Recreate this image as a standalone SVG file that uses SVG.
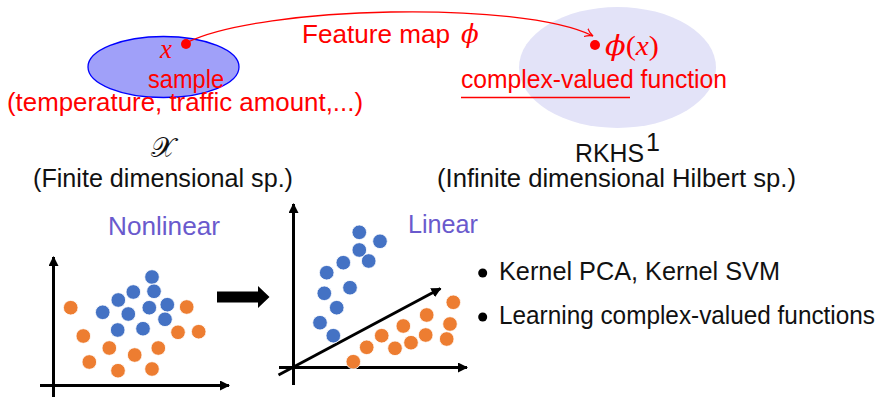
<svg xmlns="http://www.w3.org/2000/svg" width="883" height="397" viewBox="0 0 883 397">
  <style>
    .sans { font-family: "Liberation Sans", "DejaVu Sans", sans-serif; font-size: 25px; }
    .math { font-family: "Liberation Serif", "DejaVu Serif", serif; font-style: italic; font-size: 27px; }
    .phi { font-family: "DejaVu Serif", serif; font-style: italic; }
    .red { fill: #ff0000; }
    .ink { fill: #111111; }
    .slate { fill: #6a5acd; }
    .axis { stroke: #000000; stroke-width: 3; fill: none; }
    .blue-dot { fill: #4472c4; stroke: #ffffff; stroke-width: 0.8; }
    .orange-dot { fill: #ed7d31; stroke: #ffffff; stroke-width: 0.8; }
  </style>
  <defs>
    <marker id="axisHead" markerUnits="userSpaceOnUse" markerWidth="12" markerHeight="12" refX="9" refY="5" orient="auto">
      <path d="M0,0 L10,5 L0,10 Z" fill="#000000"/>
    </marker>
    <marker id="mapHead" markerUnits="userSpaceOnUse" markerWidth="12" markerHeight="12" refX="8" refY="5" orient="auto">
      <path d="M0,0.5 Q4,4 8,5 Q4,6 0,9.5" fill="none" stroke="#ff0000" stroke-width="1.2"/>
    </marker>
  </defs>

  <!-- input space -->
  <g id="input-space">
    <ellipse cx="163.5" cy="67" rx="75.5" ry="30.5" fill="#a0a0f9" stroke="#0000ff" stroke-width="1.3"/>
    <text class="math red" x="160" y="58">x</text>
    <circle cx="186" cy="44" r="5" fill="#ff0000"/>
    <text class="sans red" x="148" y="88" textLength="76" lengthAdjust="spacingAndGlyphs">sample</text>
    <text class="sans red" x="7" y="111" textLength="356" lengthAdjust="spacingAndGlyphs">(temperature, traffic amount,...)</text>
    <text class="ink" x="163" y="157" text-anchor="middle" font-family="DejaVu Serif, serif" font-size="28">𝒳</text>
    <text class="sans ink" x="33" y="187" textLength="260" lengthAdjust="spacingAndGlyphs">(Finite dimensional sp.)</text>
  </g>

  <!-- feature space -->
  <g id="feature-space">
    <ellipse cx="617.5" cy="67.5" rx="98.5" ry="60.5" fill="#e3e3f8"/>
    <circle cx="595" cy="45" r="5" fill="#ff0000"/>
    <text class="red" x="605" y="55" font-size="28" textLength="54" lengthAdjust="spacingAndGlyphs"><tspan class="phi">ϕ</tspan><tspan font-family="Liberation Serif, serif">(</tspan><tspan class="math" font-size="28">x</tspan><tspan font-family="Liberation Serif, serif">)</tspan></text>
    <text class="sans red" x="461" y="88" textLength="266" lengthAdjust="spacingAndGlyphs">complex-valued function</text>
    <line x1="461" y1="97.5" x2="630" y2="97.5" stroke="#ff0000" stroke-width="1.5"/>
    <text class="sans ink" x="575" y="162" font-size="26" textLength="69" lengthAdjust="spacingAndGlyphs">RKHS</text>
    <text class="sans ink" x="646" y="151" font-size="14">1</text>
    <text class="sans ink" x="437" y="187" textLength="359" lengthAdjust="spacingAndGlyphs">(Infinite dimensional Hilbert sp.)</text>
  </g>

  <!-- feature map connector -->
  <g id="connectors">
    <path d="M188,42 C262,6 520,0 593,36" fill="none" stroke="#ff0000" stroke-width="1.3" marker-end="url(#mapHead)"/>
    <text class="sans red" x="302" y="42.5" font-size="26" textLength="148" lengthAdjust="spacingAndGlyphs">Feature map</text>
    <text class="phi red" x="461" y="42.5" font-size="26">ϕ</text>
  </g>

  <!-- nonlinear data -->
  <g id="nonlinear-plot">
    <text class="sans slate" x="108" y="235" textLength="112" lengthAdjust="spacingAndGlyphs">Nonlinear</text>
    <line class="axis" x1="53.5" y1="397" x2="53.5" y2="257" marker-end="url(#axisHead)"/>
    <line class="axis" x1="40" y1="385.5" x2="229" y2="385.5" marker-end="url(#axisHead)"/>
    <circle class="orange-dot" cx="70.7" cy="307.7" r="7.3"/>
    <circle class="orange-dot" cx="83.3" cy="336" r="7.3"/>
    <circle class="orange-dot" cx="109.3" cy="348" r="7.3"/>
    <circle class="orange-dot" cx="89.3" cy="362" r="7.3"/>
    <circle class="orange-dot" cx="118" cy="370.7" r="7.3"/>
    <circle class="orange-dot" cx="134.7" cy="355" r="7.3"/>
    <circle class="orange-dot" cx="152" cy="369" r="7.3"/>
    <circle class="orange-dot" cx="158.3" cy="348" r="7.3"/>
    <circle class="orange-dot" cx="178" cy="332.3" r="7.3"/>
    <circle class="orange-dot" cx="198.7" cy="331.7" r="7.3"/>
    <circle class="orange-dot" cx="186.7" cy="307" r="7.3"/>
    <circle class="blue-dot" cx="152" cy="277" r="7.3"/>
    <circle class="blue-dot" cx="133.3" cy="292" r="7.3"/>
    <circle class="blue-dot" cx="154" cy="291.3" r="7.3"/>
    <circle class="blue-dot" cx="118.3" cy="300" r="7.3"/>
    <circle class="blue-dot" cx="102.7" cy="312.3" r="7.3"/>
    <circle class="blue-dot" cx="128.3" cy="314" r="7.3"/>
    <circle class="blue-dot" cx="149.3" cy="307.7" r="7.3"/>
    <circle class="blue-dot" cx="167.3" cy="304.7" r="7.3"/>
    <circle class="blue-dot" cx="165" cy="319.3" r="7.3"/>
    <circle class="blue-dot" cx="117.7" cy="330" r="7.3"/>
    <circle class="blue-dot" cx="143" cy="328.7" r="7.3"/>
  </g>

  <!-- transform arrow -->
  <g id="transform-arrow">
    <polygon points="217,291.5 258,291.5 258,286 269.5,297 258,308 258,302.5 217,302.5" fill="#000000"/>
  </g>

  <!-- linear data -->
  <g id="linear-plot">
    <text class="sans slate" x="408" y="233" textLength="70" lengthAdjust="spacingAndGlyphs">Linear</text>
    <line class="axis" x1="293.5" y1="385" x2="293.5" y2="204" marker-end="url(#axisHead)"/>
    <line class="axis" x1="279" y1="367.5" x2="467" y2="367.5" marker-end="url(#axisHead)"/>
    <line class="axis" x1="278.5" y1="375" x2="440.5" y2="288.5" marker-end="url(#axisHead)"/>
    <circle class="blue-dot" cx="359.3" cy="232.3" r="7.3"/>
    <circle class="blue-dot" cx="380" cy="241.3" r="7.3"/>
    <circle class="blue-dot" cx="359.3" cy="250" r="7.3"/>
    <circle class="blue-dot" cx="368.7" cy="261" r="7.3"/>
    <circle class="blue-dot" cx="343.3" cy="262.7" r="7.3"/>
    <circle class="blue-dot" cx="326.7" cy="272.7" r="7.3"/>
    <circle class="blue-dot" cx="350" cy="287.7" r="7.3"/>
    <circle class="blue-dot" cx="324.3" cy="293.3" r="7.3"/>
    <circle class="blue-dot" cx="336.7" cy="307.7" r="7.3"/>
    <circle class="blue-dot" cx="320" cy="322.7" r="7.3"/>
    <circle class="blue-dot" cx="333.3" cy="335.7" r="7.3"/>
    <circle class="orange-dot" cx="453.3" cy="302.3" r="7.3"/>
    <circle class="orange-dot" cx="426.7" cy="315" r="7.3"/>
    <circle class="orange-dot" cx="450" cy="324" r="7.3"/>
    <circle class="orange-dot" cx="403.3" cy="326" r="7.3"/>
    <circle class="orange-dot" cx="381.7" cy="335.7" r="7.3"/>
    <circle class="orange-dot" cx="425.7" cy="335" r="7.3"/>
    <circle class="orange-dot" cx="411" cy="342.7" r="7.3"/>
    <circle class="orange-dot" cx="446.7" cy="339" r="7.3"/>
    <circle class="orange-dot" cx="366.7" cy="347.3" r="7.3"/>
    <circle class="orange-dot" cx="395" cy="348.3" r="7.3"/>
    <circle class="orange-dot" cx="353.3" cy="361.7" r="7.3"/>
  </g>

  <!-- applications list -->
  <g id="applications">
    <circle cx="482.7" cy="273" r="4.5" fill="#000000"/>
    <text class="sans ink" x="499" y="279.5" textLength="281" lengthAdjust="spacingAndGlyphs">Kernel PCA, Kernel SVM</text>
    <circle cx="482.7" cy="317" r="4.5" fill="#000000"/>
    <text class="sans ink" x="499" y="324" textLength="376" lengthAdjust="spacingAndGlyphs">Learning complex-valued functions</text>
  </g>
</svg>
